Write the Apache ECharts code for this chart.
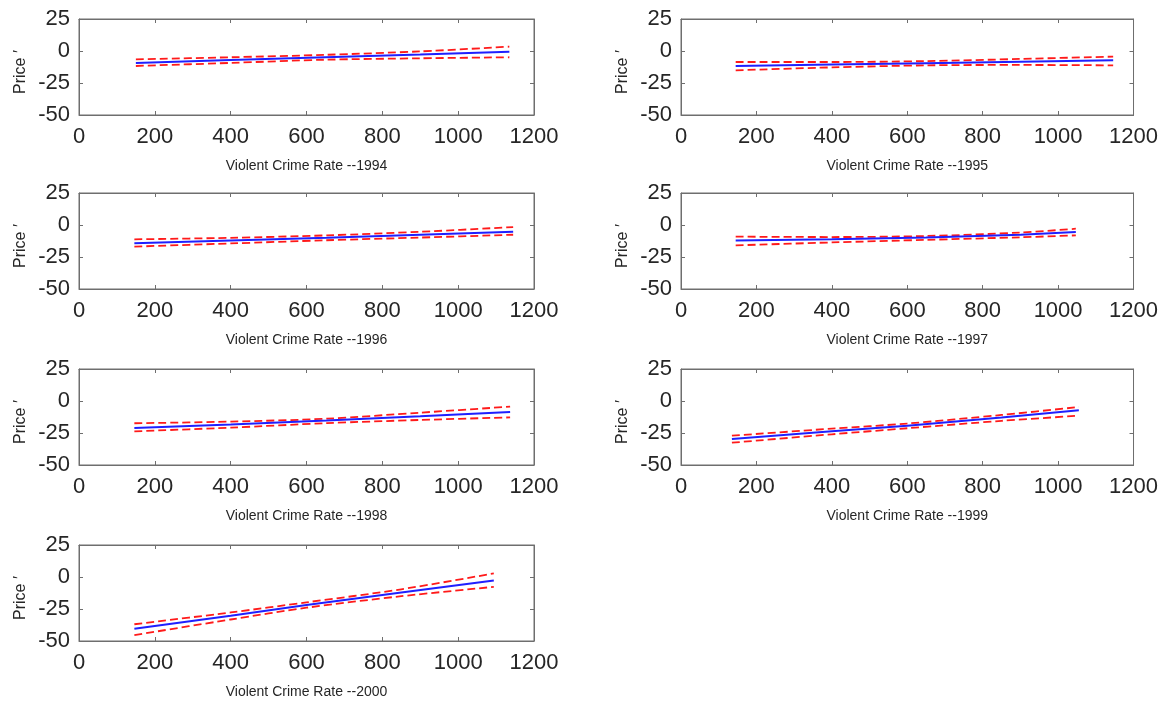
<!DOCTYPE html>
<html>
<head>
<meta charset="utf-8">
<script src="https://cdn.jsdelivr.net/npm/echarts@6/dist/echarts.min.js"></script>
<style>
  html, body { margin: 0; padding: 0; background: #fff; }
  #chart { width: 1161px; height: 702px; }
</style>
</head>
<body>
<div id="chart"></div>
<script>
// years shown under each panel
var years = ['1994', '1995', '1996', '1997', '1998', '1999', '2000'];

// violent crime rate positions where the curves were read
var xs1994 = [150, 400, 650, 900, 1135];
var xs1995 = [145, 400, 650, 900, 1146];
var xs1996 = [146, 400, 653, 900, 1145];
var xs1997 = [145, 400, 650, 900, 1047];
var xs1998 = [146, 400, 653, 900, 1137];
var xs1999 = [135, 400, 600, 850, 1055];
var xs2000 = [146, 400, 600, 850, 1094];

// fitted line (blue)
var fit1994 = [-9.3, -7.1, -4.9, -2.7, -0.5];
var fit1995 = [-11.7, -10.6, -9.5, -8.4, -7.3];
var fit1996 = [-14.3, -12.1, -9.9, -7.6, -5.2];
var fit1997 = [-12.2, -11.2, -9.8, -7.6, -5.5];
var fit1998 = [-21.1, -18.3, -15.3, -12.0, -8.6];
var fit1999 = [-29.7, -23.7, -19.3, -12.9, -7.3];
var fit2000 = [-40.5, -30.2, -21.8, -12.2, -2.8];

// upper band (red dashed)
var up1994 = [-6.5, -4.9, -3.0, -0.3, 3.4];
var up1995 = [-8.6, -8.6, -7.9, -6.2, -4.4];
var up1996 = [-11.2, -10.0, -8.1, -5.3, -1.6];
var up1997 = [-9.1, -9.4, -8.6, -5.9, -2.9];
var up1998 = [-17.4, -16.1, -13.8, -9.1, -4.4];
var up1999 = [-27.1, -21.6, -17.6, -10.9, -4.7];
var up2000 = [-36.9, -27.7, -19.8, -9.6, 2.8];

// lower band (red dashed)
var lo1994 = [-11.7, -9.3, -6.8, -5.7, -4.9];
var lo1995 = [-15.1, -12.8, -11.2, -10.9, -11.2];
var lo1996 = [-16.9, -14.4, -11.9, -9.8, -7.6];
var lo1997 = [-15.9, -13.6, -11.6, -9.6, -8.1];
var lo1998 = [-23.7, -20.8, -17.3, -14.8, -12.8];
var lo1999 = [-32.6, -26.0, -21.3, -15.5, -11.5];
var lo2000 = [-45.4, -33.2, -24.0, -15.0, -7.7];

var xsAll = [xs1994, xs1995, xs1996, xs1997, xs1998, xs1999, xs2000];
var fitAll = [fit1994, fit1995, fit1996, fit1997, fit1998, fit1999, fit2000];
var upAll = [up1994, up1995, up1996, up1997, up1998, up1999, up2000];
var loAll = [lo1994, lo1995, lo1996, lo1997, lo1998, lo1999, lo2000];

var myChart = echarts.init(document.getElementById('chart'));

var font = 'Arial, "Liberation Sans", Helvetica, sans-serif';
var textColor = '#262626';
var boxColor = '#6e6e6e';
var colLeft = [79, 681];
var rowTop = [19, 193, 369, 545];
var panelW = 455, panelH = 96;

var grids = [], xAxes = [], yAxes = [], series = [];

function pairs(xs, ys) {
    return xs.map(function (x, j) { return [x, ys[j]]; });
}
function plain(v) { return String(v); }

years.forEach(function (yr, i) {
    var col = i % 2, row = Math.floor(i / 2);
    grids.push({
        left: colLeft[col], top: rowTop[row], width: panelW, height: panelH,
        show: true, borderColor: boxColor, borderWidth: 1, backgroundColor: '#fff'
    });
    var line = { show: true, onZero: false, lineStyle: { color: boxColor, width: 1 } };
    var tick = { show: true, inside: true, length: 4, lineStyle: { color: boxColor } };
    // bottom x axis with labels
    xAxes.push({
        gridIndex: i, type: 'value', min: 0, max: 1200, interval: 200, position: 'bottom',
        axisLine: line, axisTick: tick, splitLine: { show: false },
        axisLabel: { fontSize: 22, color: textColor, fontFamily: font, margin: 11, formatter: plain },
        name: 'Violent Crime Rate --' + yr, nameLocation: 'middle', nameGap: 44,
        nameTextStyle: { fontSize: 14, color: textColor, fontFamily: font }
    });
    // top x axis, ticks only
    xAxes.push({
        gridIndex: i, type: 'value', min: 0, max: 1200, interval: 200, position: 'top',
        axisLine: line, axisTick: tick, splitLine: { show: false }, axisLabel: { show: false }
    });
    // left y axis with labels
    yAxes.push({
        gridIndex: i, type: 'value', min: -50, max: 25, interval: 25, position: 'left',
        axisLine: line, axisTick: tick, splitLine: { show: false },
        axisLabel: { fontSize: 22, color: textColor, fontFamily: font, margin: 9 },
        name: 'Price \u2032', nameLocation: 'middle', nameGap: 50,
        nameTextStyle: { fontSize: 16, color: textColor, fontFamily: font, padding: [0, 10, 0, 0] }
    });
    // right y axis, ticks only
    yAxes.push({
        gridIndex: i, type: 'value', min: -50, max: 25, interval: 25, position: 'right',
        axisLine: line, axisTick: tick, splitLine: { show: false }, axisLabel: { show: false }
    });

    var base = { type: 'line', xAxisIndex: 2 * i, yAxisIndex: 2 * i, showSymbol: false, silent: true, animation: false };
    series.push(Object.assign({}, base, {
        data: pairs(xsAll[i], upAll[i]), smooth: 0.3,
        lineStyle: { color: '#ff1a1a', width: 1.8, type: [8, 4] }
    }));
    series.push(Object.assign({}, base, {
        data: pairs(xsAll[i], loAll[i]), smooth: 0.3,
        lineStyle: { color: '#ff1a1a', width: 1.8, type: [8, 4] }
    }));
    series.push(Object.assign({}, base, {
        data: pairs(xsAll[i], fitAll[i]),
        lineStyle: { color: '#1f1fff', width: 2 }
    }));
});

var option = {
    backgroundColor: '#fff',
    animation: false,
    grid: grids,
    xAxis: xAxes,
    yAxis: yAxes,
    series: series
};

myChart.setOption(option);
window.addEventListener('resize', function () {
    myChart.resize();
});
</script>
</body>
</html>
